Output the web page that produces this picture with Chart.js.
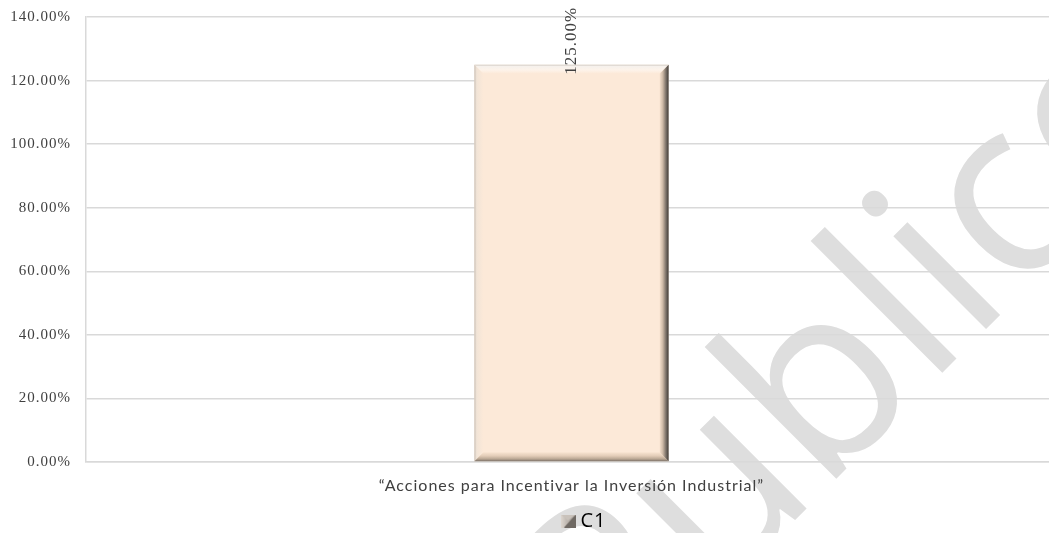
<!DOCTYPE html>
<html><head><meta charset="utf-8">
<script src="https://cdn.jsdelivr.net/npm/chart.js@4.4.1/dist/chart.umd.min.js"></script>
<style>html,body{margin:0;padding:0;background:#fff;overflow:hidden;width:1049px;height:533px}#wrap{width:1057px;height:533px;position:relative}</style>
</head><body><div id="wrap"><canvas id="c"></canvas></div>
<script>
const categories = ['“Acciones para Incentivar la Inversión Industrial”'];
const seriesName = 'C1';
const seriesValues = [125];
const yMin = 0, yMax = 140, yStep = 20;
const watermarkText = 'Público';

function legendIcon(){
  const c = document.createElement('canvas');
  c.width = 15; c.height = 13;
  const x = c.getContext('2d');
  const g = x.createLinearGradient(0,0,15,0);
  g.addColorStop(0,'#ddd6cf'); g.addColorStop(1,'#8f8882');
  x.fillStyle = g; x.fillRect(0,0,15,13);
  x.fillStyle = '#6f6963';
  x.beginPath(); x.moveTo(15,0); x.lineTo(15,13); x.lineTo(3,13); x.closePath(); x.fill();
  x.fillStyle = '#c9c2bb';
  x.beginPath(); x.moveTo(0,0); x.lineTo(15,0); x.lineTo(7,6); x.closePath(); x.fill();
  return c;
}

const bgPlugin = {
  id: 'bg',
  beforeDraw(chart){
    const ctx = chart.ctx;
    ctx.save();
    ctx.letterSpacing = '0px';
    ctx.fillStyle = '#fff';
    ctx.fillRect(0,0,chart.width,chart.height);
    ctx.translate(611,704);
    ctx.rotate(-Math.PI/4);
    ctx.font = '245px "Open Sans"';
    ctx.fillStyle = '#dedede';
    ctx.textAlign = 'left';
    ctx.textBaseline = 'alphabetic';
    ctx.fillText(watermarkText,0,0);
    ctx.restore();
    ctx.letterSpacing = '1px';
  }
};

function poly(ctx, pts, fill){
  ctx.fillStyle = fill;
  ctx.beginPath();
  ctx.moveTo(pts[0][0], pts[0][1]);
  for (let i=1;i<pts.length;i++) ctx.lineTo(pts[i][0], pts[i][1]);
  ctx.closePath(); ctx.fill();
}

const bevelPlugin = {
  id: 'bevel',
  afterDatasetsDraw(chart){
    const ctx = chart.ctx;
    const meta = chart.getDatasetMeta(0);
    meta.data.forEach((el, i) => {
      const p = el.getProps(['x','y','base','width'], true);
      const x0 = p.x - p.width/2, x1 = p.x + p.width/2, y0 = p.y, y1 = p.base;
      const b = 9;
      ctx.save();
      let g = ctx.createLinearGradient(0,y0,0,y0+b);
      g.addColorStop(0,'#cfc8c1'); g.addColorStop(0.2,'#f6f1ec'); g.addColorStop(0.6,'#fdf3ea'); g.addColorStop(1,'#fce9d8');
      poly(ctx, [[x0,y0],[x1,y0],[x1-b,y0+b],[x0+b,y0+b]], g);
      g = ctx.createLinearGradient(x0,0,x0+b,0);
      g.addColorStop(0,'#c9c0b7'); g.addColorStop(0.25,'#f1e4d7'); g.addColorStop(1,'#fce9d8');
      poly(ctx, [[x0,y0],[x0+b,y0+b],[x0+b,y1-b],[x0,y1]], g);
      g = ctx.createLinearGradient(0,y1,0,y1-b);
      g.addColorStop(0,'#7b7067'); g.addColorStop(0.25,'#b9a693'); g.addColorStop(0.6,'#e3cdb8'); g.addColorStop(1,'#f8e4d1');
      poly(ctx, [[x0,y1],[x0+b,y1-b],[x1-b,y1-b],[x1,y1]], g);
      g = ctx.createLinearGradient(x1,0,x1-b,0);
      g.addColorStop(0,'#3f3b37'); g.addColorStop(0.3,'#7d736a'); g.addColorStop(0.65,'#cdb9a6'); g.addColorStop(1,'#f6e2cf');
      poly(ctx, [[x1,y0],[x1,y1],[x1-b,y1-b],[x1-b,y0+b]], g);
      ctx.restore();
      ctx.save();
      ctx.translate(p.x, p.y + 10);
      ctx.rotate(-Math.PI/2);
      ctx.font = '17px "Liberation Serif"';
      ctx.fillStyle = '#404040';
      ctx.textAlign = 'left';
      ctx.textBaseline = 'middle';
      ctx.fillText(seriesValues[i].toFixed(2) + '%', 0, 0);
      ctx.restore();
    });
  }
};

const chart = new Chart(document.getElementById('c'), {
  type: 'bar',
  data: {
    labels: categories,
    datasets: [{
      label: seriesName,
      data: seriesValues,
      backgroundColor: '#fce9d8',
      borderWidth: 0,
      barPercentage: 0.2,
      categoryPercentage: 1,
      pointStyle: legendIcon()
    }]
  },
  options: {
    responsive: true,
    maintainAspectRatio: false,
    animation: false,
    events: [],
    layout: { padding: { top: 17, right: 0, left: 0, bottom: 0 } },
    plugins: {
      tooltip: { enabled: false },
      legend: {
        position: 'bottom',
        labels: {
          usePointStyle: true,
          pointStyleWidth: 4,
          boxHeight: 13,
          padding: 0,
          color: '#000',
          font: { family: '"Open Sans"', size: 20 }
        }
      }
    },
    scales: {
      x: {
        afterFit(scale){ scale.height = 45; scale.paddingLeft = 0; scale.paddingRight = 0; },
        grid: { display: false, drawTicks: false },
        border: { display: true, color: '#d9d9d9', width: 1.5 },
        ticks: { color: '#404040', padding: 14, font: { family: 'Lato', size: 16 } }
      },
      y: {
        min: yMin, max: yMax,
        afterFit(scale){ scale.width = 86; scale.paddingTop = 0; scale.paddingBottom = 0; },
        grid: { color: '#d9d9d9', lineWidth: 1.5, drawTicks: false },
        border: { display: true, color: '#d9d9d9', width: 1.5 },
        ticks: {
          stepSize: yStep, padding: 15, color: '#404040',
          font: { family: '"Liberation Serif"', size: 15 },
          callback: v => v.toFixed(2) + '%'
        }
      }
    }
  },
  plugins: [bgPlugin, bevelPlugin]
});
const lg = chart.legend;
const origFit = lg.fit;
lg.fit = function(){ origFit.call(this); this.height = 26; };
const origDraw = lg.draw;
lg.draw = function(){ const c = this.ctx; c.save(); c.translate(58, 4); origDraw.call(this); c.restore(); };
chart.update();
</script></body></html>
